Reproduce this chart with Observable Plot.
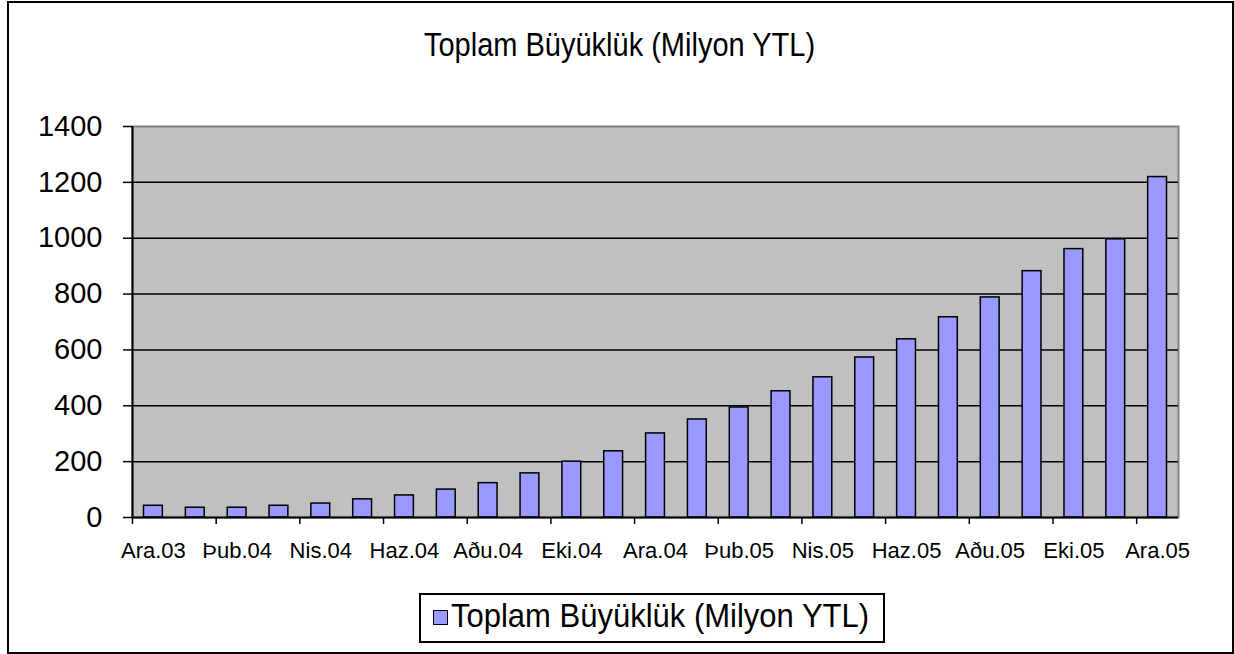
<!DOCTYPE html>
<html>
<head>
<meta charset="utf-8">
<script src="https://cdn.jsdelivr.net/npm/d3@7"></script>
<script src="https://cdn.jsdelivr.net/npm/@observablehq/plot@0.6"></script>
<style>
  html, body { margin: 0; padding: 0; background: #fff; }
  #wrap { position: relative; width: 1234px; height: 654px; overflow: hidden; font-family: "Liberation Sans", Arial, sans-serif; color: #000; }
  #frame { position: absolute; left: 7px; top: 1px; width: 1223px; height: 649px; border: 2px solid #000; }
  #title { position: absolute; left: 0; width: 1239px; top: 32px; text-align: center; font-size: 29px; line-height: 29px; white-space: nowrap; transform: scaleY(1.12); transform-origin: 50% 80%; }
  #chart { position: absolute; left: 0; top: 0; }
  #legend { position: absolute; left: 419px; top: 593px; width: 462px; height: 46px; border: 2px solid #000; background: #fff; }
  #legend .sw { position: absolute; left: 12px; top: 15px; width: 13px; height: 13px; background: #9999ff; border: 1.5px solid #000; }
  #legend .lt { position: absolute; left: 30px; top: 6px; font-size: 31px; line-height: 31px; white-space: nowrap; transform: scaleY(1.1); transform-origin: 0 80%; }
</style>
</head>
<body>
<div id="wrap">
  <div id="frame"></div>
  <div id="title"></div>
  <div id="chart"></div>
  <div id="legend"><span class="sw"></span><span class="lt"></span></div>
</div>
<script>
const titleText = "Toplam Büyüklük (Milyon YTL)";
const seriesName = "Toplam Büyüklük (Milyon YTL)";
const months = ["Ara.03","Oca.04","Þub.04","Mar.04","Nis.04","May.04","Haz.04","Tem.04","Aðu.04","Eyl.04","Eki.04","Kas.04","Ara.04","Oca.05","Þub.05","Mar.05","Nis.05","May.05","Haz.05","Tem.05","Aðu.05","Eyl.05","Eki.05","Kas.05","Ara.05"];
const values = [42,35,35,42,50,65,79,100,123,158,200,237,301,351,394,452,502,573,638,717,788,882,961,996,1219];
const yTicks = [0,200,400,600,800,1000,1200,1400];

document.getElementById("title").textContent = titleText;
document.querySelector("#legend .lt").textContent = seriesName;

const data = months.map((m, i) => ({i, month: m, value: values[i]}));
const n = months.length;
const boundaryTicks = d3.range(0, n, 2);
const labelTicks = d3.range(0, n, 2).map(i => i + 0.5);

const chart = Plot.plot({
  width: 1234,
  height: 600,
  marginLeft: 132,
  marginRight: 56,
  marginTop: 126,
  marginBottom: 83,
  x: {domain: [0, n], axis: null, label: null},
  y: {domain: [0, 1400], axis: null, label: null},
  style: {fontFamily: "'Liberation Sans', Arial, sans-serif", background: "transparent", color: "#000", overflow: "visible"},
  marks: [
    Plot.frame({fill: "#c0c0c0", stroke: "#808080", strokeWidth: 2}),
    Plot.ruleY(yTicks.filter(v => v > 0 && v < 1400), {stroke: "#000", strokeWidth: 1.5}),
    Plot.rect(data, {x1: d => d.i + 0.275, x2: d => d.i + 0.725, y1: 0, y2: "value", fill: "#9999ff", stroke: "#000", strokeWidth: 1.5}),
    Plot.axisY(yTicks, {label: null, tickSize: 9, tickPadding: 21, fontSize: 29, strokeWidth: 1.5, tickFormat: d => String(d)}),
    Plot.ruleX([0], {stroke: "#000", strokeWidth: 2}),
    Plot.ruleY([0], {stroke: "#000", strokeWidth: 2}),
    Plot.axisX(boundaryTicks, {label: null, tickSize: 7, strokeWidth: 1.5, tickFormat: () => ""}),
    Plot.axisX(labelTicks, {label: null, tickSize: 0, tickPadding: 25, fontSize: 22, tickFormat: v => months[Math.floor(v)]})
  ]
});
document.getElementById("chart").appendChild(chart);
</script>
</body>
</html>
